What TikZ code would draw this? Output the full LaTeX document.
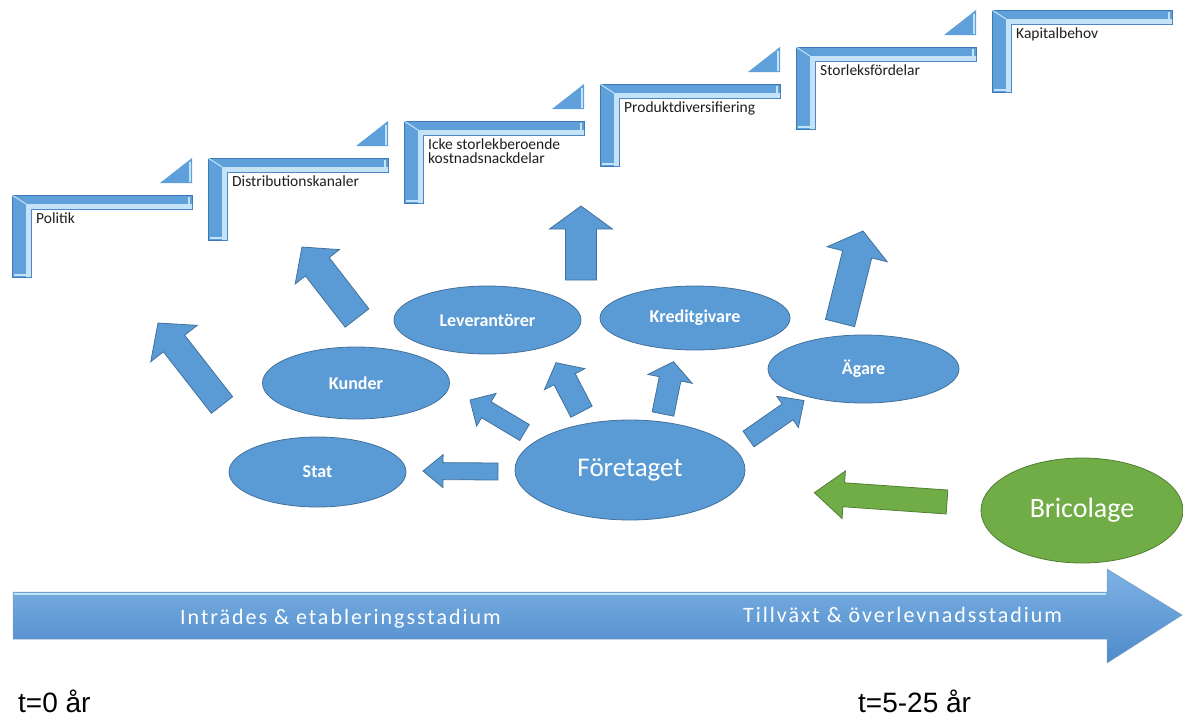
\documentclass[tikz,border=0pt]{standalone}
\usepackage{fontspec}
\setmainfont{Carlito}
\newfontfamily\arialfont{Liberation Sans}
\newfontfamily\spacedfont[LetterSpace=9]{Carlito}
\usepackage{tikz}
\usetikzlibrary{shapes.geometric,calc}

\definecolor{nodeblue}{RGB}{91,155,213}
\definecolor{nodeedge}{RGB}{65,113,156}
\definecolor{nodegreen}{RGB}{112,173,71}
\definecolor{greenedge}{RGB}{80,126,50}
\definecolor{barblue}{RGB}{96,160,218}
\definecolor{barlight}{RGB}{196,226,248}
\definecolor{bardark}{RGB}{62,122,186}
\definecolor{tlight}{RGB}{125,178,228}
\definecolor{tdark}{RGB}{78,138,202}
\definecolor{labelgray}{RGB}{30,30,30}

% block arrow: [style]{tail}{tip}{shaft half width}{head half width}{head length}
\newcommand{\blockarrow}[6][]{%
  \coordinate (neck) at ($(#3)!#6pt!(#2)$);
  \draw[#1] ($(#2)!#4pt!90:(#3)$) -- ($(neck)!#4pt!90:(#3)$) -- ($(neck)!#5pt!90:(#3)$)
    -- (#3) -- ($(neck)!#5pt!-90:(#3)$) -- ($(neck)!#4pt!-90:(#3)$)
    -- ($(#2)!#4pt!-90:(#3)$) -- cycle;
}

\begin{document}
\begin{tikzpicture}[x=1pt,y=-1pt,
    party/.style={ellipse, draw=nodeedge, fill=nodeblue, line width=0.8pt, inner sep=0pt,
      text=white, font=\bfseries\fontsize{18}{18}\selectfont},
    blockarr/.style={draw=nodeedge, fill=nodeblue, line width=0.8pt, line join=miter},
    steplabel/.style={anchor=north west, inner sep=0pt, align=left, text=labelgray,
      font=\fontsize{15.5}{14}\selectfont},
    stagelabel/.style={anchor=west, inner sep=0pt, text=white, font=\spacedfont\fontsize{22}{22}\selectfont},
    timelabel/.style={anchor=base west, inner sep=0pt, font=\arialfont\fontsize{28}{28}\selectfont}]
  \useasboundingbox (0,0) rectangle (1183,718);

  % stairs
  \foreach \i/\txt in {0/Politik, 1/Distributionskanaler, 2/{Icke storlekberoende\\kostnadsnackdelar},
      3/Produktdiversifiering, 4/Storleksfördelar, 5/Kapitalbehov} {
    \pgfmathsetmacro\X{12+196*\i}
    \pgfmathsetmacro\Y{195-37*\i}
    \fill[barblue, draw=bardark, line width=0.6pt] (\X,\Y) -- (\X+180,\Y) -- (\X+180,\Y+14)
      -- (\X+19,\Y+14) -- (\X+19,\Y+82) -- (\X,\Y+82) -- cycle;
    \fill[barlight] (\X+180,\Y+9) -- (\X+14,\Y+9) -- (\X+14,\Y+82) -- (\X+19,\Y+82)
      -- (\X+19,\Y+14) -- (\X+180,\Y+14) -- cycle;
    \draw[barlight, line width=1pt] (\X,\Y) -- (\X+14,\Y+9);
    \draw[barlight, line width=1.5pt] (\X+177,\Y+2) -- (\X+177,\Y+12);
    \draw[barlight, line width=1.5pt] (\X+2,\Y+80) -- (\X+17,\Y+80);
    \ifnum\i<5
      \fill[barblue] (\X+148,\Y-12) -- (\X+180,\Y-12) -- (\X+180,\Y-37) -- cycle;
      \draw[barlight, line width=1.5pt] (\X+178,\Y-13) -- (\X+178,\Y-33);
    \fi
    \node[steplabel] (step\i) at (\X+24,\Y+18) {\txt};
  }

  % parties
  \node[party, minimum width=177, minimum height=70] (stat) at (317.5,472) {Stat};
  \node[party, minimum width=187, minimum height=72] (kunder) at (356,383) {Kunder};
  \node[party, minimum width=187, minimum height=68] (lev) at (487.5,320) {Leverantörer};
  \node[party, minimum width=190, minimum height=64] (kred) at (695,318) {Kreditgivare};
  \node[party, minimum width=191, minimum height=68] (agare) at (863.5,369) {Ägare};
  \node[party, minimum width=230, minimum height=100, font=\fontsize{27}{27}\selectfont]
    (foretaget) at (630,470) {Företaget};
  \node[party, draw=greenedge, fill=nodegreen, minimum width=202, minimum height=105,
    font=\fontsize{28}{28}\selectfont] (bricolage) at (1082,510.5) {Bricolage};

  % arrow ends
  \coordinate (polA) at (222,405);   \coordinate (polB) at (158,323);
  \coordinate (disA) at (357,318);   \coordinate (disB) at (302,247);
  \coordinate (ickA) at (581,280);   \coordinate (ickB) at (581,206);
  \coordinate (stoA) at (840,323);   \coordinate (stoB) at (863,231);
  \coordinate (staA) at (498,471.5); \coordinate (staB) at (423,471);
  \coordinate (kunA) at (524.5,432.5); \coordinate (kunB) at (470,400);
  \coordinate (levA) at (581.5,411.7); \coordinate (levB) at (556,362.7);
  \coordinate (kreA) at (663,414);   \coordinate (kreB) at (673.5,361.7);
  \coordinate (agaA) at (748.5,439); \coordinate (agaB) at (804,400.5);
  \coordinate (briA) at (947,502);   \coordinate (briB) at (814.3,492.7);

  \blockarrow[blockarr]{polA}{polB}{13.5}{29.5}{26}
  \blockarrow[blockarr]{disA}{disB}{15}{28}{25}
  \blockarrow[blockarr]{ickA}{ickB}{15.5}{31.5}{23}
  \blockarrow[blockarr]{stoA}{stoB}{15}{31}{24}
  \blockarrow[blockarr]{staA}{staB}{8.5}{16.5}{20}
  \blockarrow[blockarr]{kunA}{kunB}{9.3}{19}{19}
  \blockarrow[blockarr]{levA}{levB}{12}{22.8}{18.6}
  \blockarrow[blockarr]{kreA}{kreB}{11}{22.6}{17.5}
  \blockarrow[blockarr]{agaA}{agaB}{9.6}{19}{20}
  \blockarrow[blockarr, draw=greenedge, fill=nodegreen]{briA}{briB}{12}{23.8}{29.5}

  % time line
  \shade[top color=tlight, bottom color=tdark, draw=nodeedge!70, line width=0.5pt]
    (13,592) -- (1107,592) -- (1107,569) -- (1182,615) -- (1107,663) -- (1107,639)
    -- (13,639) -- cycle;
  \draw[barlight, line width=1.5pt] (14,594) -- (1106,594);
  \node[stagelabel] (entry) at (180,619) {Inträdes \& etableringsstadium};
  \node[stagelabel] (growth) at (743,615) {Tillväxt \& överlevnadsstadium};
  \node[timelabel] (tstart) at (18,712) {t=0 år};
  \node[timelabel] (tend) at (858,712) {t=5-25 år};
\end{tikzpicture}
\end{document}
